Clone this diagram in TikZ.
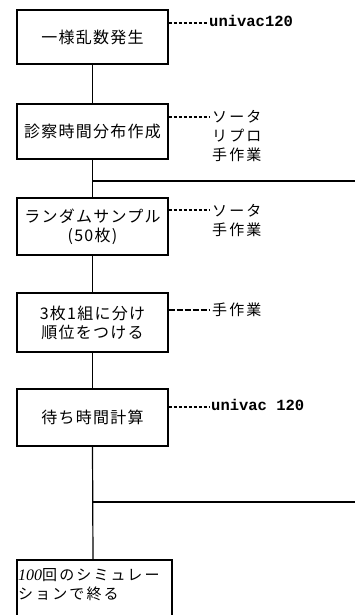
\documentclass[tikz,border=0pt]{standalone}
\usepackage{fontspec}
\setmainfont{Noto Sans CJK JP}
\newfontfamily\jpw[LetterSpace=8]{Noto Sans CJK JP}
\newfontfamily\jpside[LetterSpace=14]{Noto Sans CJK JP}
\newfontfamily\monob{Liberation Mono}
\newfontfamily\serifit{Liberation Serif}
\begin{document}
\begin{tikzpicture}[x=1pt,y=-1pt,
  box/.style={draw, line width=1.3pt, minimum width=151pt, inner sep=0pt, align=center, font=\fontsize{16}{19}\jpw},
  conn/.style={line width=1.2pt},
  dsh/.style={line width=1.2pt, dash pattern=on 3pt off 2pt},
  side/.style={anchor=west, inner sep=0pt, align=left, font=\fontsize{15}{19}\jpside},
  uni/.style={anchor=west, inner sep=0pt, font=\fontsize{15.5}{19}\monob\bfseries}]
\useasboundingbox (0,0) rectangle (355,615);
\node[box, minimum height=54pt] (b1) at (92.5,37) {一様乱数発生};
\node[box, minimum height=55pt] (b2) at (92.5,131.5) {診察時間分布作成};
\node[box, minimum height=57pt] (b3) at (92.5,226.5) {ランダムサンプル\\(50枚)};
\node[box, minimum height=59pt] (b4) at (92.5,322.5) {3枚1組に分け\\順位をつける};
\node[box, minimum height=57pt] (b5) at (92.5,417.5) {待ち時間計算};
% bottom open box
\coordinate (b6bl) at (17,615);
\coordinate (b6tl) at (17,560);
\coordinate (b6top) at (93,560);
\coordinate (b6tr) at (172,560);
\coordinate (b6br) at (172,615);
\draw[line width=1.3pt] (b6bl) -- (b6tl) -- (b6tr) -- (b6br);
\node[anchor=north west, inner sep=0pt, align=left, font=\fontsize{15}{19}\jpside] (t6) at (18,568) {{\serifit\itshape\fontsize{16}{19}\selectfont 100}回のシミュレー\\ションで終る};
% vertical connectors
\draw[conn] (b1.south) -- (b2.north);
\draw[conn] (b2.south) -- (b3.north);
\draw[conn] (b3.south) -- (b4.north);
\draw[conn] (b4.south) -- (b5.north);
\draw[conn] (b5.south) -- (b6top);
% horizontal lines
\coordinate (h1a) at (93,181);
\coordinate (h1b) at (355,181);
\coordinate (h2a) at (93,502);
\coordinate (h2b) at (355,502);
\draw[conn] (h1a) -- (h1b);
\draw[conn] (h2a) -- (h2b);
% side labels
\coordinate (d1) at (208,23);
\draw[dsh] (b1.east |- d1) -- (d1);
\node[uni] (l1) at (209,21) {univac120};
\coordinate (d2) at (210,117);
\draw[dsh] (b2.east |- d2) -- (d2);
\node[side] (l2) at (212,136) {ソータ\\リプロ\\手作業};
\coordinate (d3) at (210,210);
\draw[dsh] (b3.east |- d3) -- (d3);
\node[side] (l3) at (212,220) {ソータ\\手作業};
\coordinate (d4) at (210,310);
\draw[dsh, dash pattern=on 6pt off 2pt] (b4.east |- d4) -- (d4);
\node[side] (l4) at (212,310) {手作業};
\coordinate (d5) at (210,407);
\draw[dsh] (b5.east |- d5) -- (d5);
\node[uni] (l5) at (211,405) {univac 120};
\end{tikzpicture}
\end{document}
